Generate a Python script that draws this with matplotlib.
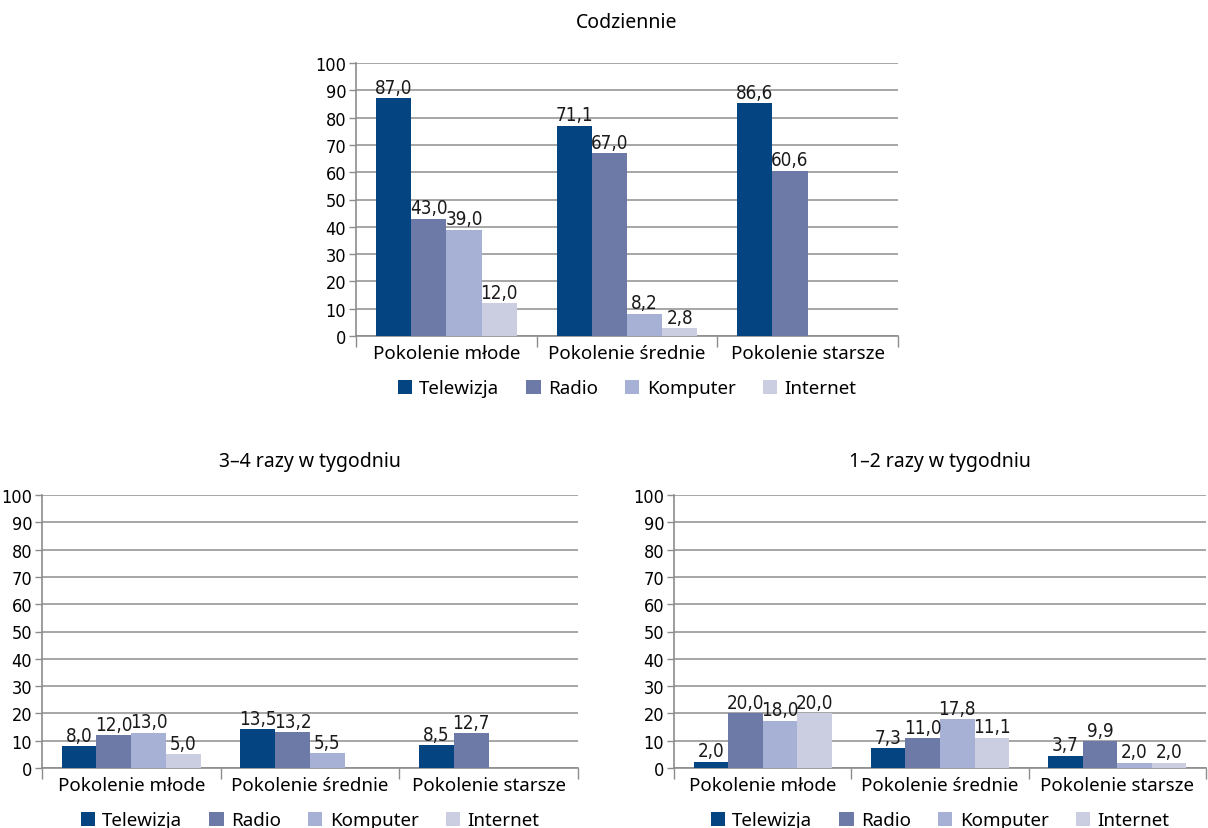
import numpy as np
import matplotlib
matplotlib.use("Agg")
import matplotlib.pyplot as plt
from matplotlib.ticker import FixedLocator

# ---- data ----
categories = ["Pokolenie młode", "Pokolenie średnie", "Pokolenie starsze"]
series = ["Telewizja", "Radio", "Komputer", "Internet"]
colors = ["#044581", "#6d7aa8", "#a7b0d5", "#cbcde0"]

# bar heights as drawn, and the printed labels (None = no bar)
daily_vals = [[87.0, 77.0, 85.3], [43.0, 67.0, 60.6], [39.0, 8.2, None], [12.0, 2.8, None]]
daily_lbls = [["87,0", "71,1", "86,6"], ["43,0", "67,0", "60,6"], ["39,0", "8,2", None], ["12,0", "2,8", None]]

w34_vals = [[8.0, 14.3, 8.3], [12.0, 13.2, 12.7], [13.0, 5.5, None], [5.0, None, None]]
w34_lbls = [["8,0", "13,5", "8,5"], ["12,0", "13,2", "12,7"], ["13,0", "5,5", None], ["5,0", None, None]]

w12_vals = [[2.3, 7.3, 4.5], [20.0, 11.0, 9.9], [17.3, 17.8, 2.0], [20.0, 11.1, 2.0]]
w12_lbls = [["2,0", "7,3", "3,7"], ["20,0", "11,0", "9,9"], ["18,0", "17,8", "2,0"], ["20,0", "11,1", "2,0"]]

titles = ["Codziennie", "3–4 razy w tygodniu", "1–2 razy w tygodniu"]
yticks = list(range(0, 101, 10))

NARROW = dict(family="DejaVu Sans", stretch="condensed")
REG = ["Noto Sans", "DejaVu Sans"]

W, H = 1208, 829
fig = plt.figure(figsize=(W / 100, H / 100), dpi=100)


def px_axes(x0, x1, ytop, ybot):
    return fig.add_axes([x0 / W, (H - ybot) / H, (x1 - x0) / W, (ybot - ytop) / H])


def draw(ax, vals, lbls, title, tpad):
    x = np.arange(len(categories))
    bw = 0.195
    for i, name in enumerate(series):
        xs = x + (i - 1.5) * bw
        h = [v if v is not None else 0 for v in vals[i]]
        ax.bar(xs, h, width=bw, color=colors[i], label=name, zorder=3, linewidth=0)
        for xx, v, lb in zip(xs, vals[i], lbls[i]):
            if lb is None:
                continue
            ax.text(xx, v + 0.5, lb, ha="center", va="bottom", fontsize=13.5,
                    color="#1a1a1a", zorder=4, **NARROW)
    ax.set_xlim(-0.5, 2.5)
    ax.set_ylim(0, 100)
    ax.set_yticks(yticks)
    ax.set_yticklabels([str(t) for t in yticks], fontsize=13, **NARROW)
    ax.yaxis.grid(True, color="#a6a6a6", lw=1.4, zorder=0)
    ax.set_xticks(x)
    ax.set_xticklabels(categories, family=REG, fontsize=13.5)
    ax.xaxis.set_minor_locator(FixedLocator([-0.5, 0.5, 1.5, 2.5]))
    ax.tick_params(axis="x", which="major", length=0, pad=6)
    ax.tick_params(axis="x", which="minor", length=8, color="#8c8c8c", width=1)
    ax.tick_params(axis="y", length=5, color="#8c8c8c", width=1, pad=2)
    for s in ["top", "right"]:
        ax.spines[s].set_visible(False)
    for s in ["left", "bottom"]:
        ax.spines[s].set_color("#8c8c8c")
        ax.spines[s].set_linewidth(1.2)
    ax.set_title(title, family=REG, fontsize=14, pad=tpad)
    ax.legend(loc="center", bbox_to_anchor=(0.5, -0.192), ncol=4, frameon=False,
              handlelength=0.75, handleheight=0.75, handletextpad=0.4, columnspacing=1.45,
              prop={"family": REG, "size": 13.5})


ax1 = px_axes(356, 898, 64, 337)
draw(ax1, daily_vals, daily_lbls, titles[0], 26)
ax2 = px_axes(42, 578, 496, 769)
draw(ax2, w34_vals, w34_lbls, titles[1], 21)
ax3 = px_axes(674, 1206, 496, 769)
draw(ax3, w12_vals, w12_lbls, titles[2], 21)

fig.savefig("out.png", dpi=100, facecolor="white")
